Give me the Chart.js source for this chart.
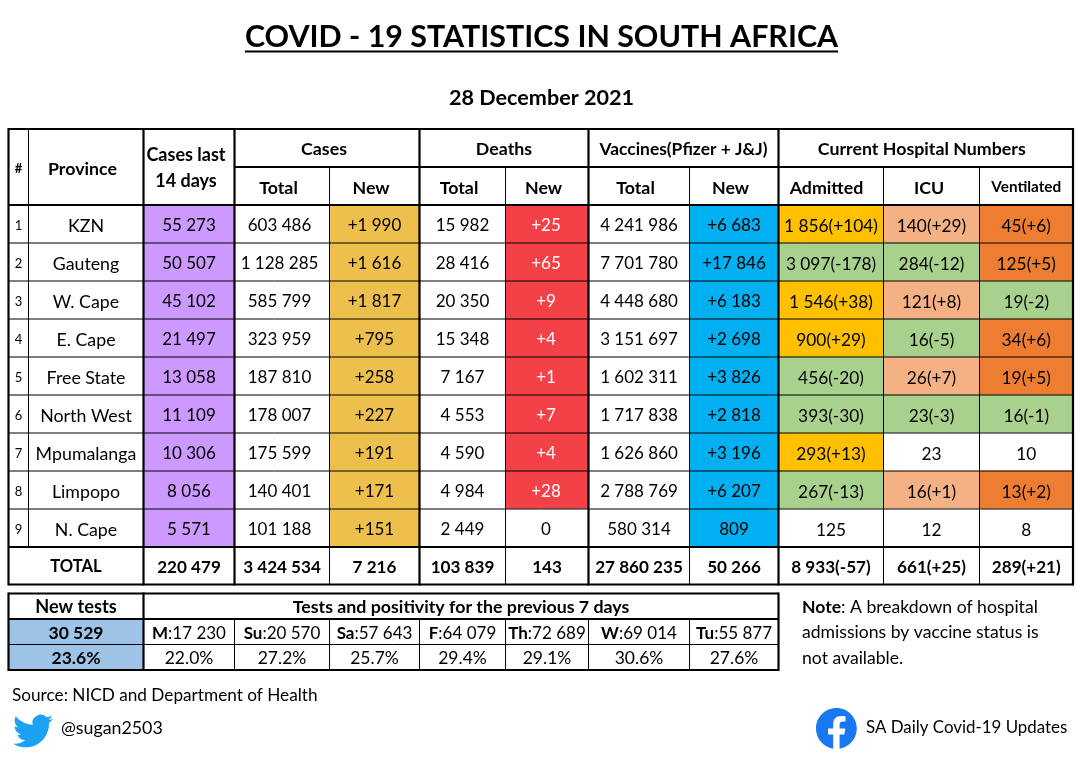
<!DOCTYPE html>
<html>
<head>
<meta charset="utf-8">
<script src="https://cdn.jsdelivr.net/npm/chart.js@4"></script>
<style>
    html, body { margin: 0; padding: 0; background: #fff; }
    canvas { display: block; }
</style>
</head>
<body>
<canvas id="tableChart" width="1081" height="761"></canvas>
<script>
const titleText = 'COVID - 19 STATISTICS IN SOUTH AFRICA';
const dateText = '28 December 2021';

const provinces = ['KZN', 'Gauteng', 'W. Cape', 'E. Cape', 'Free State', 'North West', 'Mpumalanga', 'Limpopo', 'N. Cape'];
const casesLast14 = ['55 273', '50 507', '45 102', '21 497', '13 058', '11 109', '10 306', '8 056', '5 571'];
const casesTotal = ['603 486', '1 128 285', '585 799', '323 959', '187 810', '178 007', '175 599', '140 401', '101 188'];
const casesNew = ['+1 990', '+1 616', '+1 817', '+795', '+258', '+227', '+191', '+171', '+151'];
const deathsTotal = ['15 982', '28 416', '20 350', '15 348', '7 167', '4 553', '4 590', '4 984', '2 449'];
const deathsNew = ['+25', '+65', '+9', '+4', '+1', '+7', '+4', '+28', '0'];
const vaccinesTotal = ['4 241 986', '7 701 780', '4 448 680', '3 151 697', '1 602 311', '1 717 838', '1 626 860', '2 788 769', '580 314'];
const vaccinesNew = ['+6 683', '+17 846', '+6 183', '+2 698', '+3 826', '+2 818', '+3 196', '+6 207', '809'];
const admitted = ['1 856(+104)', '3 097(-178)', '1 546(+38)', '900(+29)', '456(-20)', '393(-30)', '293(+13)', '267(-13)', '125'];
const icu = ['140(+29)', '284(-12)', '121(+8)', '16(-5)', '26(+7)', '23(-3)', '23', '16(+1)', '12'];
const ventilated = ['45(+6)', '125(+5)', '19(-2)', '34(+6)', '19(+5)', '16(-1)', '10', '13(+2)', '8'];
const totals = ['220 479', '3 424 534', '7 216', '103 839', '143', '27 860 235', '50 266', '8 933(-57)', '661(+25)', '289(+21)'];

const newTests = '30 529';
const newPositivity = '23.6%';
const testDays = ['M', 'Su', 'Sa', 'F', 'Th', 'W', 'Tu'];
const testCounts = ['17 230', '20 570', '57 643', '64 079', '72 689', '69 014', '55 877'];
const testPositivity = ['22.0%', '27.2%', '25.7%', '29.4%', '29.1%', '30.6%', '27.6%'];

const sourceText = 'Source: NICD and Department of Health';
const twitterHandle = '@sugan2503';
const facebookPage = 'SA Daily Covid-19 Updates';
const noteLines = [': A breakdown of hospital', 'admissions by vaccine status is', 'not available.'];

// layout, in page pixels: the scales below run 0..1081 and 0..761
const colX = [8.5, 28.5, 143.5, 234.5, 329.5, 419.5, 505.5, 588.5, 689.5, 778.5, 883.5, 979.5, 1073];
const rowY = [129, 167, 205, 243, 281, 319, 357, 395, 433, 471, 509, 547, 584.5];
const testRowY = [593.5, 619, 644.5, 670];

const PURPLE = '#cc99ff', GOLD = '#edbf4c', RED = '#f44147', BLUE = '#00b0f0';
const YELLOW = '#ffc000', SALMON = '#f4b183', ORANGE = '#ed7d31', GREEN = '#a9d18e', SKY = '#9dc3e6';

const FONT = 'Lato';
const TWITTER_PATH = 'M23.953 4.57a10 10 0 01-2.825.775 4.958 4.958 0 002.163-2.723c-.951.555-2.005.959-3.127 1.184a4.92 4.92 0 00-8.384 4.482C7.69 8.095 4.067 6.13 1.64 3.162a4.822 4.822 0 00-.666 2.475c0 1.71.87 3.213 2.188 4.096a4.904 4.904 0 01-2.228-.616v.06a4.923 4.923 0 003.946 4.827 4.996 4.996 0 01-2.212.085 4.936 4.936 0 004.604 3.417 9.867 9.867 0 01-6.102 2.105c-.39 0-.779-.023-1.17-.067a13.995 13.995 0 007.557 2.209c9.053 0 13.998-7.496 13.998-13.985 0-.21 0-.42-.015-.63A9.935 9.935 0 0024 4.59z';
const FACEBOOK_PATH = 'M24 12.073c0-6.627-5.373-12-12-12s-12 5.373-12 12c0 5.99 4.388 10.954 10.125 11.854v-8.385H7.078v-3.47h3.047V9.43c0-3.007 1.792-4.669 4.533-4.669 1.312 0 2.686.235 2.686.235v2.953H15.83c-1.491 0-1.956.925-1.956 1.874v2.25h3.328l-.532 3.47h-2.796v8.385C19.612 23.027 24 18.062 24 12.073z';

function trendColor(upColor) {
    return function(text) {
        if (text.includes('(+')) return upColor;
        if (text.includes('(-')) return GREEN;
        return '#ffffff';
    };
}

const bodyColumns = [
    { col: 2, values: casesLast14, color: () => PURPLE, size: 17 },
    { col: 3, values: casesTotal, color: () => '#ffffff', size: 17, shift: -2.5 },
    { col: 4, values: casesNew, color: () => GOLD, size: 17 },
    { col: 5, values: deathsTotal, color: () => '#ffffff', size: 17 },
    { col: 6, values: deathsNew, color: text => text === '0' ? '#ffffff' : RED, size: 17, shift: -1,
      ink: text => text === '0' ? '#000000' : '#ffffff' },
    { col: 7, values: vaccinesTotal, color: () => '#ffffff', size: 17 },
    { col: 8, values: vaccinesNew, color: () => BLUE, size: 17 },
    { col: 9, values: admitted, color: trendColor(YELLOW), size: 17.3 },
    { col: 10, values: icu, color: trendColor(SALMON), size: 17.3 },
    { col: 11, values: ventilated, color: trendColor(ORANGE), size: 17.3 }
];

const bodyCells = [];
bodyColumns.forEach(column => {
    column.values.forEach((text, i) => {
        bodyCells.push({
            x: [colX[column.col], colX[column.col + 1]],
            y: (rowY[i + 2] + rowY[i + 3]) / 2,
            fill: column.color(text)
        });
    });
});

const testCells = [
    { x: [colX[0], colX[2]], y: (testRowY[1] + testRowY[2]) / 2, fill: SKY },
    { x: [colX[0], colX[2]], y: (testRowY[2] + testRowY[3]) / 2, fill: SKY }
];

function drawText(chart, text, xv, yv, size, bold, align, ink) {
    const ctx = chart.ctx;
    ctx.font = (bold ? 'bold ' : '') + size + 'px ' + FONT;
    ctx.textAlign = align || 'center';
    ctx.textBaseline = 'middle';
    ctx.fillStyle = ink || '#000000';
    ctx.fillText(text, chart.scales.x.getPixelForValue(xv), chart.scales.y.getPixelForValue(yv));
}

function drawMixed(chart, boldPart, plainPart, xv, yv, size, centered) {
    const ctx = chart.ctx;
    ctx.font = 'bold ' + size + 'px ' + FONT;
    const boldWidth = ctx.measureText(boldPart).width;
    ctx.font = size + 'px ' + FONT;
    const plainWidth = ctx.measureText(plainPart).width;
    const start = centered ? xv - (boldWidth + plainWidth) / 2 : xv;
    drawText(chart, boldPart, start, yv, size, true, 'left');
    drawText(chart, plainPart, start + boldWidth, yv, size, false, 'left');
}

function drawLine(chart, x0, y0, x1, y1, width) {
    const ctx = chart.ctx;
    ctx.beginPath();
    ctx.lineWidth = width;
    ctx.strokeStyle = '#000000';
    ctx.moveTo(chart.scales.x.getPixelForValue(x0), chart.scales.y.getPixelForValue(y0));
    ctx.lineTo(chart.scales.x.getPixelForValue(x1), chart.scales.y.getPixelForValue(y1));
    ctx.stroke();
}

function drawIcon(chart, pathData, xv, yv, scale, color) {
    const ctx = chart.ctx;
    ctx.save();
    ctx.translate(chart.scales.x.getPixelForValue(xv), chart.scales.y.getPixelForValue(yv));
    ctx.scale(scale, scale);
    ctx.fillStyle = color;
    ctx.fill(new Path2D(pathData));
    ctx.restore();
}

function colCenter(a, b) {
    return (colX[a] + colX[b]) / 2;
}

function rowCenter(i) {
    return (rowY[i] + rowY[i + 1]) / 2;
}

const tablePlugin = {
    id: 'tablePlugin',
    afterDatasetsDraw(chart) {
        const ctx = chart.ctx;
        ctx.save();

        // grid of the main table
        const top = rowY[0], bottom = rowY[12], headBottom = rowY[2], left = colX[0], right = colX[12];
        for (let r = 3; r < 11; r++) drawLine(chart, left, rowY[r], right, rowY[r], 1);
        drawLine(chart, colX[3], rowY[1], right, rowY[1], 2);
        [top, headBottom, rowY[11], bottom].forEach(y => drawLine(chart, left, y, right, y, 2.2));
        drawLine(chart, colX[1], top, colX[1], rowY[11], 1);
        [4, 6, 8, 10, 11].forEach(c => drawLine(chart, colX[c], rowY[1], colX[c], bottom, 1));
        [0, 2, 3, 5, 7, 9, 12].forEach(c => drawLine(chart, colX[c], top - 1, colX[c], bottom + 1, 2.2));

        // grid of the tests table
        const tTop = testRowY[0], tBottom = testRowY[3];
        drawLine(chart, left, tTop, colX[9], tTop, 2.2);
        drawLine(chart, left, testRowY[1], colX[9], testRowY[1], 2);
        drawLine(chart, left, testRowY[2], colX[9], testRowY[2], 1);
        drawLine(chart, left, tBottom, colX[9], tBottom, 2.2);
        [0, 2, 9].forEach(c => drawLine(chart, colX[c], tTop - 1, colX[c], tBottom + 1, 2.2));
        [3, 4, 5, 6, 7, 8].forEach(c => drawLine(chart, colX[c], testRowY[1], colX[c], tBottom, 1));

        // title
        drawText(chart, titleText, 541.5, 37, 30.4, true);
        ctx.font = 'bold 30.4px ' + FONT;
        const titleWidth = ctx.measureText(titleText).width;
        drawLine(chart, 541.5 - titleWidth / 2, 51.5, 541.5 + titleWidth / 2, 51.5, 1.8);
        drawText(chart, dateText, 541.5, 98, 21.6, true);

        // headers
        const H = 17.8, headY = rowCenter(0) + 1, subY = rowCenter(1) + 2;
        drawText(chart, '#', colCenter(0, 1), rowY[1] + 2, 13, true);
        drawText(chart, 'Province', colCenter(1, 2) - 3.5, rowY[1] + 2, H, true);
        drawText(chart, 'Cases last', colCenter(2, 3) - 3, 155, 18, true);
        drawText(chart, '14 days', colCenter(2, 3) - 3, 181, 18, true);
        drawText(chart, 'Cases', colCenter(3, 5) - 3, headY, H, true);
        drawText(chart, 'Deaths', colCenter(5, 7), headY, H, true);
        drawText(chart, 'Vaccines(Pfizer + J&J)', colCenter(7, 9), headY, 17.4, true);
        drawText(chart, 'Current Hospital Numbers', colCenter(9, 12) - 4, headY, H, true);
        ['Total', 'New', 'Total', 'New', 'Total', 'New'].forEach((label, i) => {
            drawText(chart, label, colCenter(3 + i, 4 + i) - 3.5, subY, H, true);
        });
        drawText(chart, 'Admitted', colCenter(9, 10) - 4.5, subY, H, true);
        drawText(chart, 'ICU', colCenter(10, 11) - 2.5, subY, H, true);
        drawText(chart, 'Ventilated', colCenter(11, 12), subY - 1, 15.3, true);

        // body
        provinces.forEach((name, i) => {
            const y = rowCenter(i + 2) + 2;
            drawText(chart, String(i + 1), colCenter(0, 1), y, 13, false);
            drawText(chart, name, colCenter(1, 2), y, 17.8, false);
        });
        bodyColumns.forEach(column => {
            column.values.forEach((text, i) => {
                const ink = column.ink ? column.ink(text) : '#000000';
                drawText(chart, text, colCenter(column.col, column.col + 1) + (column.shift || 0), rowCenter(i + 2) + 2,
                    column.size, false, 'center', ink);
            });
        });
        drawText(chart, 'TOTAL', colCenter(0, 2), rowCenter(11) + 0.5, 16.6, true);
        totals.forEach((text, i) => {
            drawText(chart, text, colCenter(2 + i, 3 + i), rowCenter(11) + 1.5, 17.1, true);
        });

        // tests table
        const tY = [0, 1, 2].map(i => (testRowY[i] + testRowY[i + 1]) / 2);
        drawText(chart, 'New tests', colCenter(0, 2), tY[0] + 1, 18.2, true);
        drawText(chart, 'Tests and positivity for the previous 7 days', colCenter(2, 9), tY[0] + 1, 17.8, true);
        drawText(chart, newTests, colCenter(0, 2), tY[1] + 2, 17.5, true);
        drawText(chart, newPositivity, colCenter(0, 2), tY[2] + 1, 17.5, true);
        testDays.forEach((day, i) => {
            drawMixed(chart, day, ':' + testCounts[i], colCenter(2 + i, 3 + i), tY[1] + 2, 17, true);
            drawText(chart, testPositivity[i], colCenter(2 + i, 3 + i), tY[2] + 1, 17.5, false);
        });

        // notes and footer
        drawMixed(chart, 'Note', noteLines[0], 802, 607, 17.6, false);
        drawText(chart, noteLines[1], 802, 632, 17.6, false, 'left');
        drawText(chart, noteLines[2], 802, 658, 17.6, false, 'left');
        drawText(chart, sourceText, 12, 695, 17.2, false, 'left');
        drawText(chart, twitterHandle, 61, 728, 17.8, false, 'left');
        drawText(chart, facebookPage, 866, 728, 16.9, false, 'left');
        drawIcon(chart, TWITTER_PATH, 13, 711, 1.67, '#1da1f2');
        drawIcon(chart, FACEBOOK_PATH, 816, 708, 1.7, '#1877f2');

        ctx.restore();
    }
};

const chart = new Chart(document.getElementById('tableChart').getContext('2d'), {
    type: 'bar',
    data: {
        datasets: [
            { label: 'Provinces', data: bodyCells, barThickness: 38, grouped: false,
              backgroundColor: ctx => ctx.raw ? ctx.raw.fill : '#ffffff' },
            { label: 'Tests', data: testCells, barThickness: 25.5, grouped: false,
              backgroundColor: ctx => ctx.raw ? ctx.raw.fill : '#ffffff' }
        ]
    },
    options: {
        indexAxis: 'y',
        responsive: false,
        animation: false,
        layout: { padding: 0 },
        parsing: { xAxisKey: 'x', yAxisKey: 'y' },
        plugins: { legend: { display: false }, tooltip: { enabled: false } },
        scales: {
            x: { type: 'linear', min: 0, max: 1081, display: false, offset: false },
            y: { type: 'linear', min: 0, max: 761, reverse: true, display: false, offset: false }
        }
    },
    plugins: [tablePlugin]
});
</script>
</body>
</html>
